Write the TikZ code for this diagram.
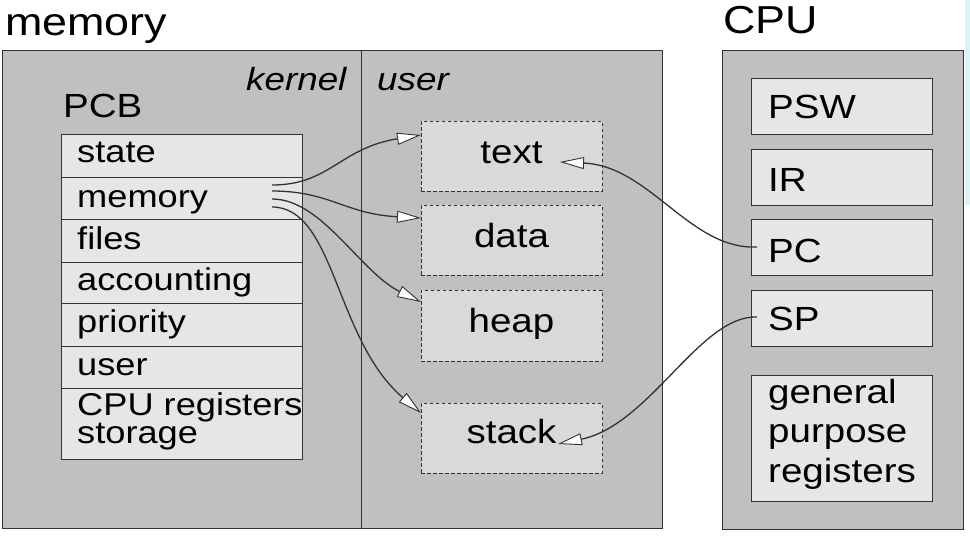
\documentclass[tikz,border=0pt]{standalone}
\usepackage{fontspec}
\setmainfont{Liberation Sans}[FakeStretch=1.15]
\usetikzlibrary{arrows.meta}
\definecolor{outerc}{HTML}{C0C0C0}
\definecolor{cellc}{HTML}{E6E6E6}
\definecolor{segc}{HTML}{D9D9D9}
\definecolor{edgec}{HTML}{333333}
\definecolor{stripc}{HTML}{DDF3FA}
\begin{document}
\begin{tikzpicture}[x=1pt,y=-1pt,
  outerbox/.style={draw=edgec, fill=outerc, line width=1.3pt, inner sep=0pt, anchor=north west},
  cell/.style={draw=edgec, fill=cellc, line width=0.9pt, inner sep=0pt, anchor=north west, minimum width=241pt},
  regbox/.style={draw=edgec, fill=cellc, line width=0.9pt, inner sep=0pt, anchor=north west, minimum width=181pt},
  seg/.style={draw=edgec, fill=segc, line width=0.9pt, dash pattern=on 3.5pt off 2.5pt, inner sep=0pt, anchor=north west, minimum width=181pt},
  rowtxt/.style={anchor=base west, inner sep=0pt, font=\fontsize{31.5pt}{28pt}\selectfont},
  bigtxt/.style={anchor=base west, inner sep=0pt, font=\fontsize{33.5pt}{39.5pt}\selectfont},
  segtxt/.style={anchor=base, inner sep=0pt, font=\fontsize{33.5pt}{37pt}\selectfont},
  titletxt/.style={anchor=base west, inner sep=0pt, font=\fontsize{39pt}{39pt}\selectfont},
  arr/.style={draw=edgec, line width=1.3pt, -{Triangle[length=24pt,width=12pt,fill=white,line width=0.9pt]}}
]
\useasboundingbox (0,0) rectangle (970,536);
\fill[white] (0,0) rectangle (970,536);
\fill[stripc] (965,0) rectangle (970,205);

% titles
\node[titletxt] (memtitle) at (5,35) {memory};
\node[titletxt] (cputitle) at (723,33) {CPU};

% memory box
\node[outerbox, minimum width=660pt, minimum height=478pt] (mem) at (2,50) {};
\coordinate (divtop) at (361,50);
\coordinate (divbot) at (361,528);
\draw[edgec, line width=1pt] (divtop) -- (divbot);
\node[rowtxt, font=\fontsize{32pt}{32pt}\selectfont\itshape] (kernel) at (246,90) {kernel};
\node[rowtxt, font=\fontsize{32pt}{32pt}\selectfont\itshape] (user) at (377,90) {user};

% PCB
\node[bigtxt] (pcb) at (63,117) {PCB};
\node[cell, minimum height=43pt] (c1) at (61,134) {};
\node[cell, minimum height=42pt] (c2) at (61,177) {};
\node[cell, minimum height=43pt] (c3) at (61,219) {};
\node[cell, minimum height=41pt] (c4) at (61,262) {};
\node[cell, minimum height=43pt] (c5) at (61,303) {};
\node[cell, minimum height=42pt] (c6) at (61,346) {};
\node[cell, minimum height=71pt] (c7) at (61,388) {};
\node[rowtxt] (t1) at (77,162) {state};
\node[rowtxt] (t2) at (77,207) {memory};
\node[rowtxt] (t3) at (77,249) {files};
\node[rowtxt] (t4) at (77,290) {accounting};
\node[rowtxt] (t5) at (77,332) {priority};
\node[rowtxt] (t6) at (77,375) {user};
\node[rowtxt, align=left] (t7) at (77,443) {CPU registers\\storage};

% segments
\node[seg, minimum height=70pt] (stext) at (421,121) {};
\node[seg, minimum height=70pt] (sdata) at (421,205) {};
\node[seg, minimum height=71pt] (sheap) at (421,290) {};
\node[seg, minimum height=70pt] (sstack) at (421,403) {};
\node[segtxt] (ltext) at (511.5,163) {text};
\node[segtxt] (ldata) at (511.5,247) {data};
\node[segtxt] (lheap) at (511.5,332) {heap};
\node[segtxt] (lstack) at (511.5,443) {stack};

% CPU
\node[outerbox, minimum width=241pt, minimum height=479pt] (cpu) at (722,50) {};
\node[regbox, minimum height=56pt] (rpsw) at (751,78) {};
\node[regbox, minimum height=56pt] (rir) at (751,149) {};
\node[regbox, minimum height=56pt] (rpc) at (751,219) {};
\node[regbox, minimum height=56pt] (rsp) at (751,290) {};
\node[regbox, minimum height=126pt] (rgen) at (751,375) {};
\node[bigtxt] (lpsw) at (768,118) {PSW};
\node[bigtxt] (lir) at (768,191) {IR};
\node[bigtxt] (lpc) at (768,262) {PC};
\node[bigtxt] (lsp) at (768,330) {SP};
\node[bigtxt, align=left] (lgen) at (768,482) {general\\purpose\\registers};

% connector ends
\coordinate (m1) at (272,185);
\coordinate (m2) at (272,191);
\coordinate (m3) at (272,199);
\coordinate (m4) at (272,207);
\coordinate (e1) at (421,135);
\coordinate (e2) at (421,218);
\coordinate (e3) at (421,302);
\coordinate (e4) at (421,413);
\coordinate (pcs) at (757,247);
\coordinate (pce) at (560,162);
\coordinate (sps) at (757,317);
\coordinate (spe) at (558,444);

\draw[arr] (m1) .. controls (330,185) and (340,148) .. (e1);
\draw[arr] (m2) .. controls (330,191) and (345,214) .. (e2);
\draw[arr] (m3) .. controls (322,199) and (360,272) .. (e3);
\draw[arr] (m4) .. controls (335,207) and (335,340) .. (e4);
\draw[arr] (pcs) .. controls (690,250) and (650,166) .. (pce);
\draw[arr] (sps) .. controls (700,315) and (650,425) .. (spe);
\end{tikzpicture}
\end{document}
